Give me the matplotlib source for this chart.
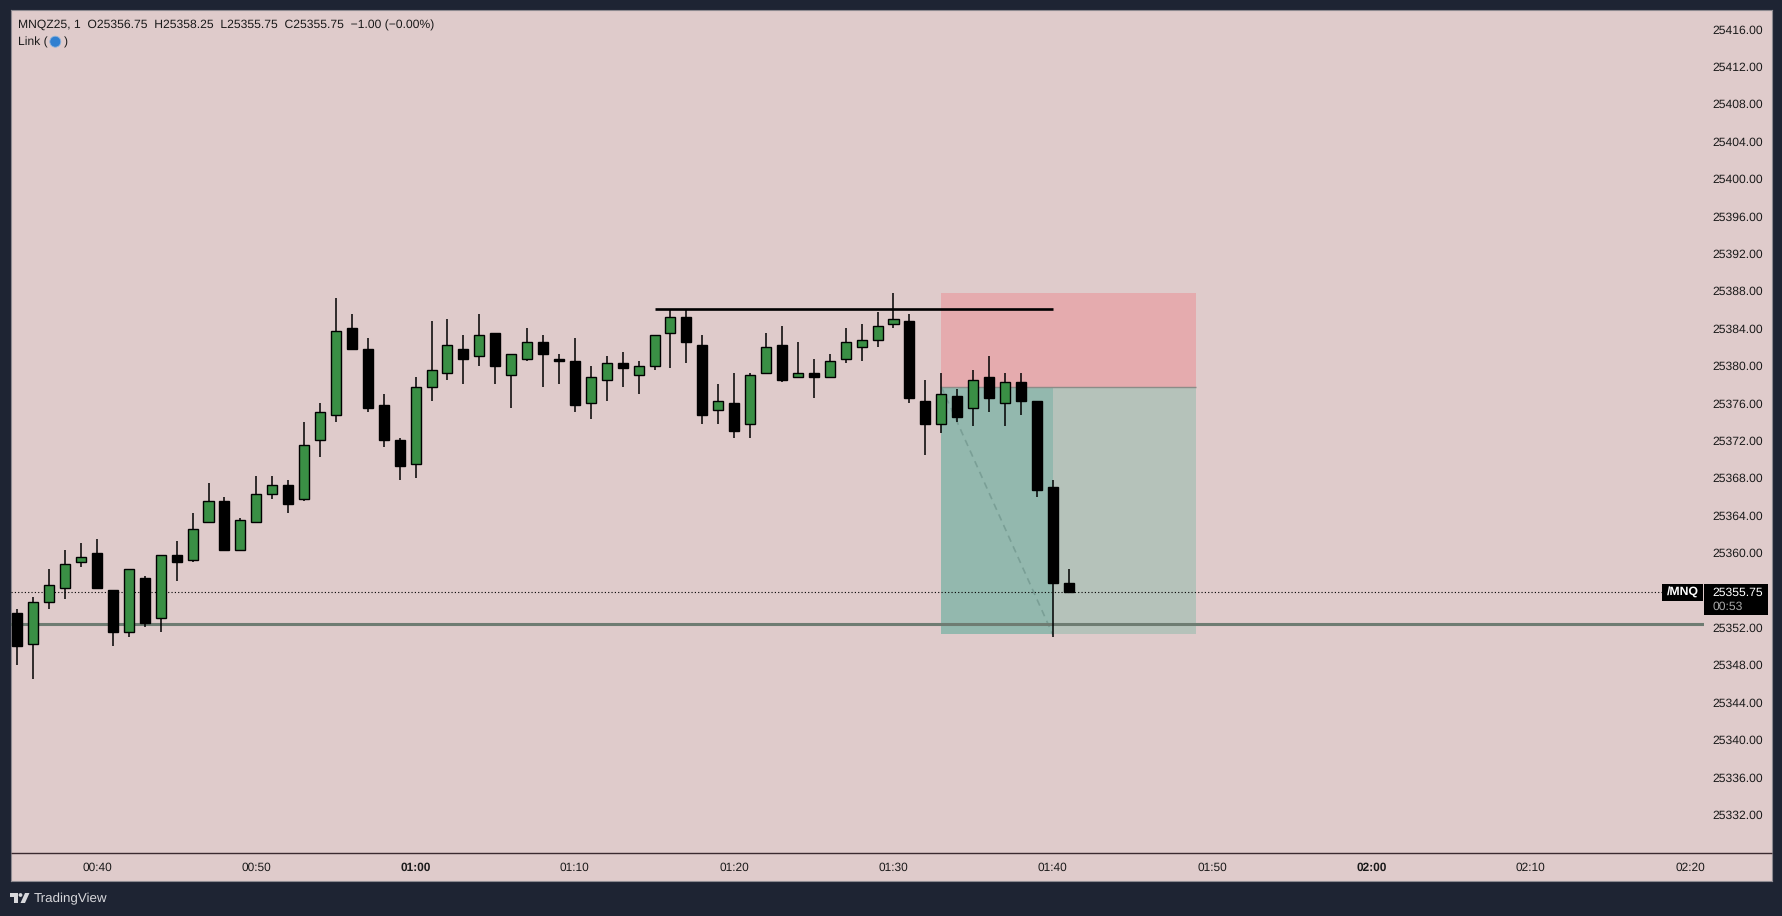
import matplotlib
matplotlib.use('Agg')
import matplotlib.pyplot as plt
from matplotlib.patches import Rectangle, Circle, Polygon

plt.rcParams['font.family'] = ['Liberation Sans', 'DejaVu Sans']
plt.rcParams['text.hinting'] = 'no_hinting'

# one-minute bars, first one is 00:35
opens = [25353.5, 25350.25, 25354.75, 25356.25, 25359, 25360, 25356, 25351.5, 25357.25, 25353,
         25359.75, 25359.25, 25363.25, 25365.5, 25360.25, 25363.25, 25366.25, 25367.25, 25365.75, 25372,
         25374.75, 25384, 25381.75, 25375.75, 25372, 25369.5, 25377.75, 25379.25, 25381.75, 25381,
         25383.5, 25379, 25380.75, 25382.5, 25380.75, 25380.5, 25376, 25378.5, 25380.25, 25379,
         25380, 25383.5, 25385.25, 25382.25, 25375.25, 25376, 25373.75, 25379.25, 25382.25, 25378.75,
         25379.25, 25378.75, 25380.75, 25382, 25382.75, 25384.5, 25384.75, 25376.25, 25373.75, 25376.75,
         25375.5, 25378.75, 25376, 25378.25, 25376.25, 25367, 25356.75]
highs = [25354, 25355.25, 25358.25, 25360.25, 25361, 25361.5, 25356, 25358.25, 25357.5, 25359.75,
         25361.25, 25364.25, 25367.5, 25366, 25363.75, 25368.25, 25368.25, 25367.75, 25374, 25376,
         25387.25, 25385.5, 25383, 25377, 25372.25, 25378.75, 25384.75, 25385, 25383.25, 25385.5,
         25383.5, 25381.25, 25384, 25383.25, 25381.25, 25383, 25380, 25381, 25381.5, 25380.5,
         25383.25, 25386, 25386, 25383.25, 25378, 25379.25, 25379.25, 25383.5, 25384.25, 25382.5,
         25380.75, 25381.25, 25384, 25384.5, 25385.75, 25387.75, 25385.5, 25378.5, 25379.25, 25377.5,
         25379.5, 25381, 25379.25, 25379.25, 25376.25, 25367.75, 25358.25]
lows = [25348, 25346.5, 25354, 25355, 25358.5, 25356.25, 25350, 25351, 25352, 25351.5,
        25357, 25359, 25363.25, 25360.25, 25360.25, 25363.25, 25365.75, 25364.25, 25365.5, 25370.25,
        25374, 25381.75, 25375, 25371.25, 25367.75, 25368, 25376.25, 25378.5, 25378, 25380,
        25378, 25375.5, 25380.5, 25377.75, 25378, 25375, 25374.25, 25376.25, 25377.75, 25377,
        25379.5, 25379.75, 25380.25, 25373.75, 25373.75, 25372.25, 25372.25, 25379.25, 25378.25, 25378.75,
        25376.5, 25378.75, 25380.25, 25380.5, 25382, 25384, 25376, 25370.5, 25372.75, 25374,
        25373.5, 25375, 25373.5, 25374.75, 25366, 25351, 25355.75]
closes = [25350, 25354.75, 25356.5, 25358.75, 25359.5, 25356.25, 25351.5, 25358.25, 25352.5, 25359.75,
          25359, 25362.5, 25365.5, 25360.25, 25363.5, 25366.25, 25367.25, 25365.25, 25371.5, 25375,
          25383.75, 25381.75, 25375.5, 25372, 25369.25, 25377.75, 25379.5, 25382.25, 25380.75, 25383.25,
          25380, 25381.25, 25382.5, 25381.25, 25380.5, 25375.75, 25378.75, 25380.25, 25379.75, 25380,
          25383.25, 25385.25, 25382.5, 25374.75, 25376.25, 25373, 25379, 25382, 25378.5, 25379.25,
          25378.75, 25380.5, 25382.5, 25382.75, 25384.25, 25385, 25376.5, 25373.75, 25377, 25374.5,
          25378.5, 25376.5, 25378.25, 25376.25, 25366.75, 25356.75, 25355.75]

time_ticks = [5, 15, 25, 35, 45, 55, 65, 75, 85, 95, 105]
time_labels = ['00:40', '00:50', '01:00', '01:10', '01:20', '01:30', '01:40', '01:50', '02:00', '02:10', '02:20']
bold_labels = ['01:00', '02:00']
price_ticks = list(range(25332, 25420, 4))

last_price = 25355.75
level_price = 25352.35
resist_price = 25386.1
resist_start, resist_end = 40, 65
pos_start, pos_now, pos_end = 58, 65, 74
pos_stop, pos_entry, pos_target = 25387.75, 25377.75, 25351.25

W, H = 1782, 916
DARK = '#1e2433'
PINK = '#dfcbcb'
GREEN = '#3a8f45'

fig = plt.figure(figsize=(W / 100, H / 100), dpi=100, facecolor=DARK)

# pane backing, axes positions worked out from pixels
bg = fig.add_axes([10.5 / W, 1 - 881 / H, (1772 - 10.5) / W, (881 - 10) / H])
bg.set_facecolor(PINK)
bg.set_xticks([])
bg.set_yticks([])
for s in bg.spines.values():
    s.set_color('#8d8a90')
    s.set_linewidth(0.8)

ax = fig.add_axes([10.5 / W, 1 - 853 / H, (1704 - 10.5) / W, (853 - 10) / H])
ax.patch.set_alpha(0)
ax.set_xlim(-0.43, 105.88)
ax.set_ylim(25327.88, 25418.04)
for name in ['top', 'left', 'right', 'bottom']:
    ax.spines[name].set_visible(False)

# long position tool
ax.add_patch(Rectangle((pos_start, pos_entry), pos_end - pos_start, pos_stop - pos_entry,
                       fc='#e5abae', ec='none', zorder=1))
ax.add_patch(Rectangle((pos_start, pos_target), pos_end - pos_start, pos_entry - pos_target,
                       fc='#b5c2ba', ec='none', zorder=1))
ax.add_patch(Rectangle((pos_start, pos_target), pos_now - pos_start, pos_entry - pos_target,
                       fc='#93b8ae', ec='none', zorder=1.1))
ax.hlines(pos_entry, pos_start, pos_end, color='#8c8c88', lw=1, zorder=1.2)
ax.plot([pos_start, pos_now], [pos_entry, pos_target], color='#7a9f96', lw=1.2,
        ls=(0, (4, 3)), zorder=1.3)

ax.axhline(level_price, color='#6e7c72', lw=2.2, zorder=1.5)
ax.axhline(last_price, color='black', lw=0.8, ls=(0, (1, 2)), zorder=1.6)
ax.hlines(resist_price, resist_start, resist_end, color='black', lw=1.9, zorder=2)

# candles
x = list(range(len(opens)))
colors = [GREEN if c >= o else 'black' for o, c in zip(opens, closes)]
ax.vlines(x, lows, highs, color='black', lw=1.1, zorder=3)
ax.bar(x, [abs(c - o) for o, c in zip(opens, closes)], bottom=[min(o, c) for o, c in zip(opens, closes)],
       width=0.63, color=colors, edgecolor='black', linewidth=1.0, zorder=4)

ax.yaxis.tick_right()
ax.set_yticks(price_ticks)
ax.set_yticklabels([f'{p:.2f}' for p in price_ticks])
ax.tick_params(axis='y', length=0, pad=5.8, labelsize=8.7, labelcolor='#1a1a1a')
ax.set_xticks(time_ticks)
ax.set_xticklabels(time_labels)
ax.tick_params(axis='x', length=0, pad=6.5, labelsize=8.6, labelcolor='#1a1a1a')
for lab in ax.get_xticklabels():
    if lab.get_text() in bold_labels:
        lab.set_fontweight('bold')

# overlay in pixel coordinates for the chrome
ov = fig.add_axes([0, 0, 1, 1])
ov.set_xlim(0, W)
ov.set_ylim(H, 0)
ov.axis('off')
ov.patch.set_alpha(0)

# time axis separator runs under the price scale too
ov.hlines(853.3, 10.5, 1772, color='#3a2a30', lw=1)

ov.text(18, 25, 'MNQZ25, 1  O25356.75  H25358.25  L25355.75  C25355.75  \u22121.00 (\u22120.00%)',
        fontsize=8.7, color='#1a1a1a', va='center')
ov.text(18, 42, 'Link (', fontsize=8.7, color='#1a1a1a', va='center')
ov.add_patch(Circle((55.3, 41.7), 5.5, fc='#2f7fd0', ec='#8fb4dc', lw=0.6))
ov.text(64, 42, ')', fontsize=8.7, color='#1a1a1a', va='center')

ov.add_patch(Rectangle((1662.3, 584), 41, 16.7, fc='black', ec='none'))
ov.text(1683, 592.4, '/MNQ', fontsize=8.8, color='white', fontweight='bold', ha='center', va='center')
ov.add_patch(Rectangle((1704, 584), 63.7, 30.7, fc='black', ec='none'))
ov.text(1712.3, 592.4, f'{last_price:.2f}', fontsize=8.7, color='white', va='center')
ov.text(1712.3, 606.7, '00:53', fontsize=8.7, color='#a8a8a8', va='center')

# TradingView logo
ov.add_patch(Polygon([(10, 893), (18, 893), (18, 903), (14, 903), (14, 897), (10, 897)], fc='#d8d8dc', ec='none'))
ov.add_patch(Circle((20.5, 895), 1.9, fc='#d8d8dc', ec='none'))
ov.add_patch(Polygon([(25, 893), (29.5, 893), (25, 903), (20.5, 903)], fc='#d8d8dc', ec='none'))
ov.text(34, 898.7, 'TradingView', fontsize=9.6, color='#d8d8dc', va='center')

fig.savefig('out.png', dpi=100, facecolor=DARK)
